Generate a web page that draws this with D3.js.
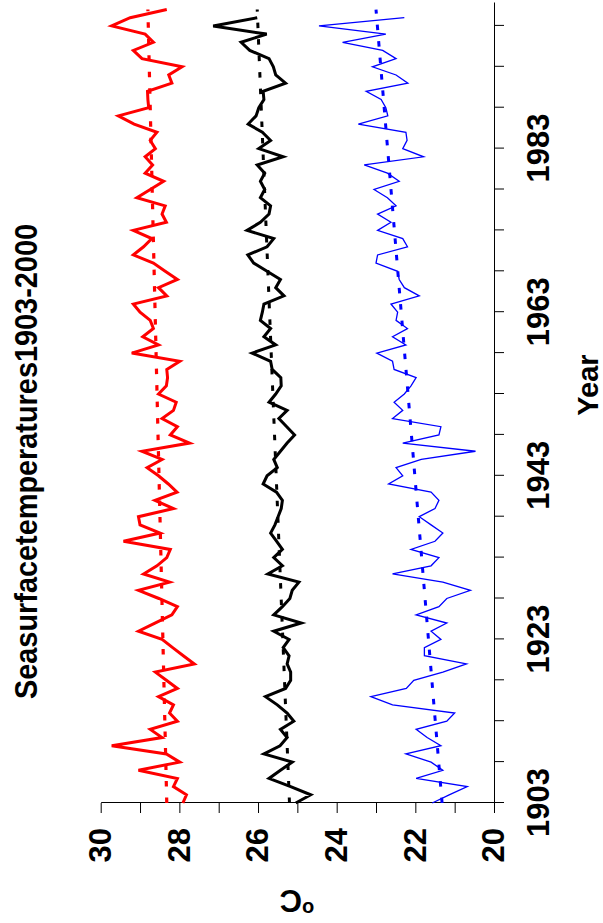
<!DOCTYPE html>
<html><head><meta charset="utf-8">
<script src="https://cdn.jsdelivr.net/npm/d3@7"></script>
<style>
body{margin:0;background:#fff}
svg{display:block}
text{font-family:"Liberation Sans",Arial,sans-serif;font-weight:bold;fill:#000}
</style>
</head><body>
<svg id="chart" width="603" height="923"></svg>
<script>
const years = d3.range(1903, 2001);
const redSeries = [27.91,27.82,28.15,28.05,29.04,27.99,28.33,29.72,28.44,28.74,
  28.05,28.25,28.15,28.53,28.05,28.33,28.61,27.62,27.90,28.17,
  28.44,29.04,28.62,28.19,28.05,28.52,29.04,28.25,28.91,28.57,
  28.32,28.23,29.42,28.49,29.00,29.04,28.15,28.62,28.06,28.28,
  28.53,28.82,28.44,28.95,27.74,28.23,28.05,28.44,28.15,28.08,
  28.53,28.33,28.30,28.32,27.99,29.21,28.53,28.93,28.66,28.74,
  29.00,29.17,28.32,28.53,28.05,28.36,28.66,29.17,28.91,28.70,
  29.17,28.33,28.44,28.36,29.08,28.74,28.40,28.87,28.68,28.87,
  28.61,28.74,28.57,29.15,29.55,28.78,28.80,28.81,28.19,28.27,
  27.93,28.95,29.17,28.66,28.87,29.72,29.25,28.32];
const blackSeries = [25.04,24.66,25.17,25.72,25.43,25.13,25.85,25.44,25.26,25.43,
  25.09,25.26,25.51,25.81,25.30,25.17,25.17,25.26,25.21,25.36,
  25.21,25.60,24.90,25.60,25.38,25.19,25.13,24.96,25.75,25.38,
  25.60,25.38,25.53,25.68,25.57,25.49,25.41,25.38,25.53,25.87,
  25.77,25.51,25.60,25.43,25.26,25.07,25.27,25.47,25.26,25.72,
  25.55,25.41,25.42,25.64,25.68,26.15,25.55,25.85,25.68,25.94,
  25.89,25.85,25.34,25.55,25.43,25.77,26.11,26.26,25.77,25.60,
  26.28,25.94,25.72,25.68,25.94,25.83,25.94,25.83,26.02,25.36,
  25.98,25.68,25.89,26.25,26.05,25.98,25.85,25.87,25.30,25.55,
  25.61,25.72,26.21,26.43,25.78,27.14,26.02,null];
const blueSeries = [21.57,21.14,20.68,21.98,21.30,21.60,22.24,21.35,21.70,21.98,
  21.20,21.00,22.58,23.13,22.23,22.04,21.30,20.70,21.77,21.77,
  21.35,21.60,21.20,21.98,21.40,21.20,20.60,21.30,22.58,21.60,
  21.40,22.11,21.50,21.30,21.60,21.90,21.50,21.40,21.60,22.68,
  22.32,22.49,21.85,20.47,22.32,21.40,21.35,22.58,22.32,22.54,
  22.28,22.11,21.98,22.54,22.58,22.98,22.24,22.58,22.20,22.49,
  22.45,22.62,21.90,22.28,22.41,22.45,23.00,22.96,22.20,22.32,
  22.96,22.62,22.96,22.49,22.71,23.05,22.41,22.71,23.30,21.79,
  22.32,22.21,22.24,23.45,22.70,22.75,22.87,23.25,22.19,22.49,
  23.09,22.49,22.83,23.85,22.75,24.45,22.28,null];
const trendYears = [1903, 2000];
const redTrend = [28.32, 28.80];
const blackTrend = [25.20, 26.02];
const blueTrend = [21.32, 23.00];
const tempTicks = [20,21,22,23,24,25,26,27,28,29,30];
const tempLabels = [20,22,24,26,28,30];
const yearTicks = [1903,1908,1913,1918,1923,1928,1933,1938,1943,1948,1953,1958,1963,1968,1973,1978,1983,1988,1993,1998];
const yearLabels = [1903,1923,1943,1963,1983];
const titleText = "Seasurfacetemperatures1903-2000";
const xTitle = "Year";

const svg = d3.select("#chart");
// chart drawn in landscape then rotated to portrait
const g = svg.append("g").attr("transform","translate(0,923) rotate(-90)");

const x = d3.scaleLinear().domain([1903, 2000.8]).range([120, 920]);
const y = d3.scaleLinear().domain([20, 30]).range([494, 100.7]);

// axes
g.append("g").attr("transform","translate(0,494)")
  .call(d3.axisBottom(x).tickValues(yearTicks).tickSize(10).tickSizeOuter(0).tickPadding(23)
    .tickFormat(d => yearLabels.includes(d) ? String(d) : ""));
g.append("g").attr("transform","translate(120,0)")
  .call(d3.axisLeft(y).tickValues(tempTicks).tickSize(10).tickSizeOuter(0).tickPadding(15)
    .tickFormat(d => tempLabels.includes(d) ? String(d) : ""));
g.selectAll(".domain, .tick line").attr("stroke","#000").attr("stroke-width",1);
g.selectAll(".tick text").attr("font-size",31).attr("font-family",'"Liberation Sans",Arial,sans-serif').attr("font-weight","bold").attr("fill","#000");

function drawSeries(vals, color, width){
  const line = d3.line().defined(d => d[1] != null).x(d => x(d[0])).y(d => y(d[1]));
  g.append("path").datum(years.map((yr,i)=>[yr, vals[i]]))
    .attr("fill","none").attr("stroke",color).attr("stroke-width",width)
    .attr("stroke-linejoin","miter").attr("stroke-miterlimit",4).attr("d",line);
}
function drawTrend(vals, color, width){
  const line = d3.line().x(d => x(d[0])).y(d => y(d[1]));
  g.append("path").datum(trendYears.map((yr,i)=>[yr, vals[i]]))
    .attr("fill","none").attr("stroke",color).attr("stroke-width",width)
    .attr("stroke-dasharray","5.5,11").attr("d",line);
}
drawSeries(redSeries, "#ff0000", 3);
drawSeries(blackSeries, "#000000", 3);
drawSeries(blueSeries, "#0000ff", 1.3);
drawTrend(redTrend, "#ff0000", 3.2);
drawTrend(blackTrend, "#000000", 3);
drawTrend(blueTrend, "#0000ff", 3);

// title
g.append("text").attr("x",461.5).attr("y",37).attr("text-anchor","middle")
  .attr("font-size",31).attr("textLength",475).attr("lengthAdjust","spacingAndGlyphs")
  .text(titleText);
// x title
g.append("text").attr("x",538).attr("y",598).attr("text-anchor","middle")
  .attr("font-size",29).text(xTitle);
// y title (degree C)
const yt = g.append("text").attr("transform","translate(33,297) rotate(-90)").attr("text-anchor","middle");
yt.append("tspan").attr("font-size",20).attr("dy",-12).text("o");
yt.append("tspan").attr("font-size",31).attr("dy",12).text("C");
</script>
</body></html>
